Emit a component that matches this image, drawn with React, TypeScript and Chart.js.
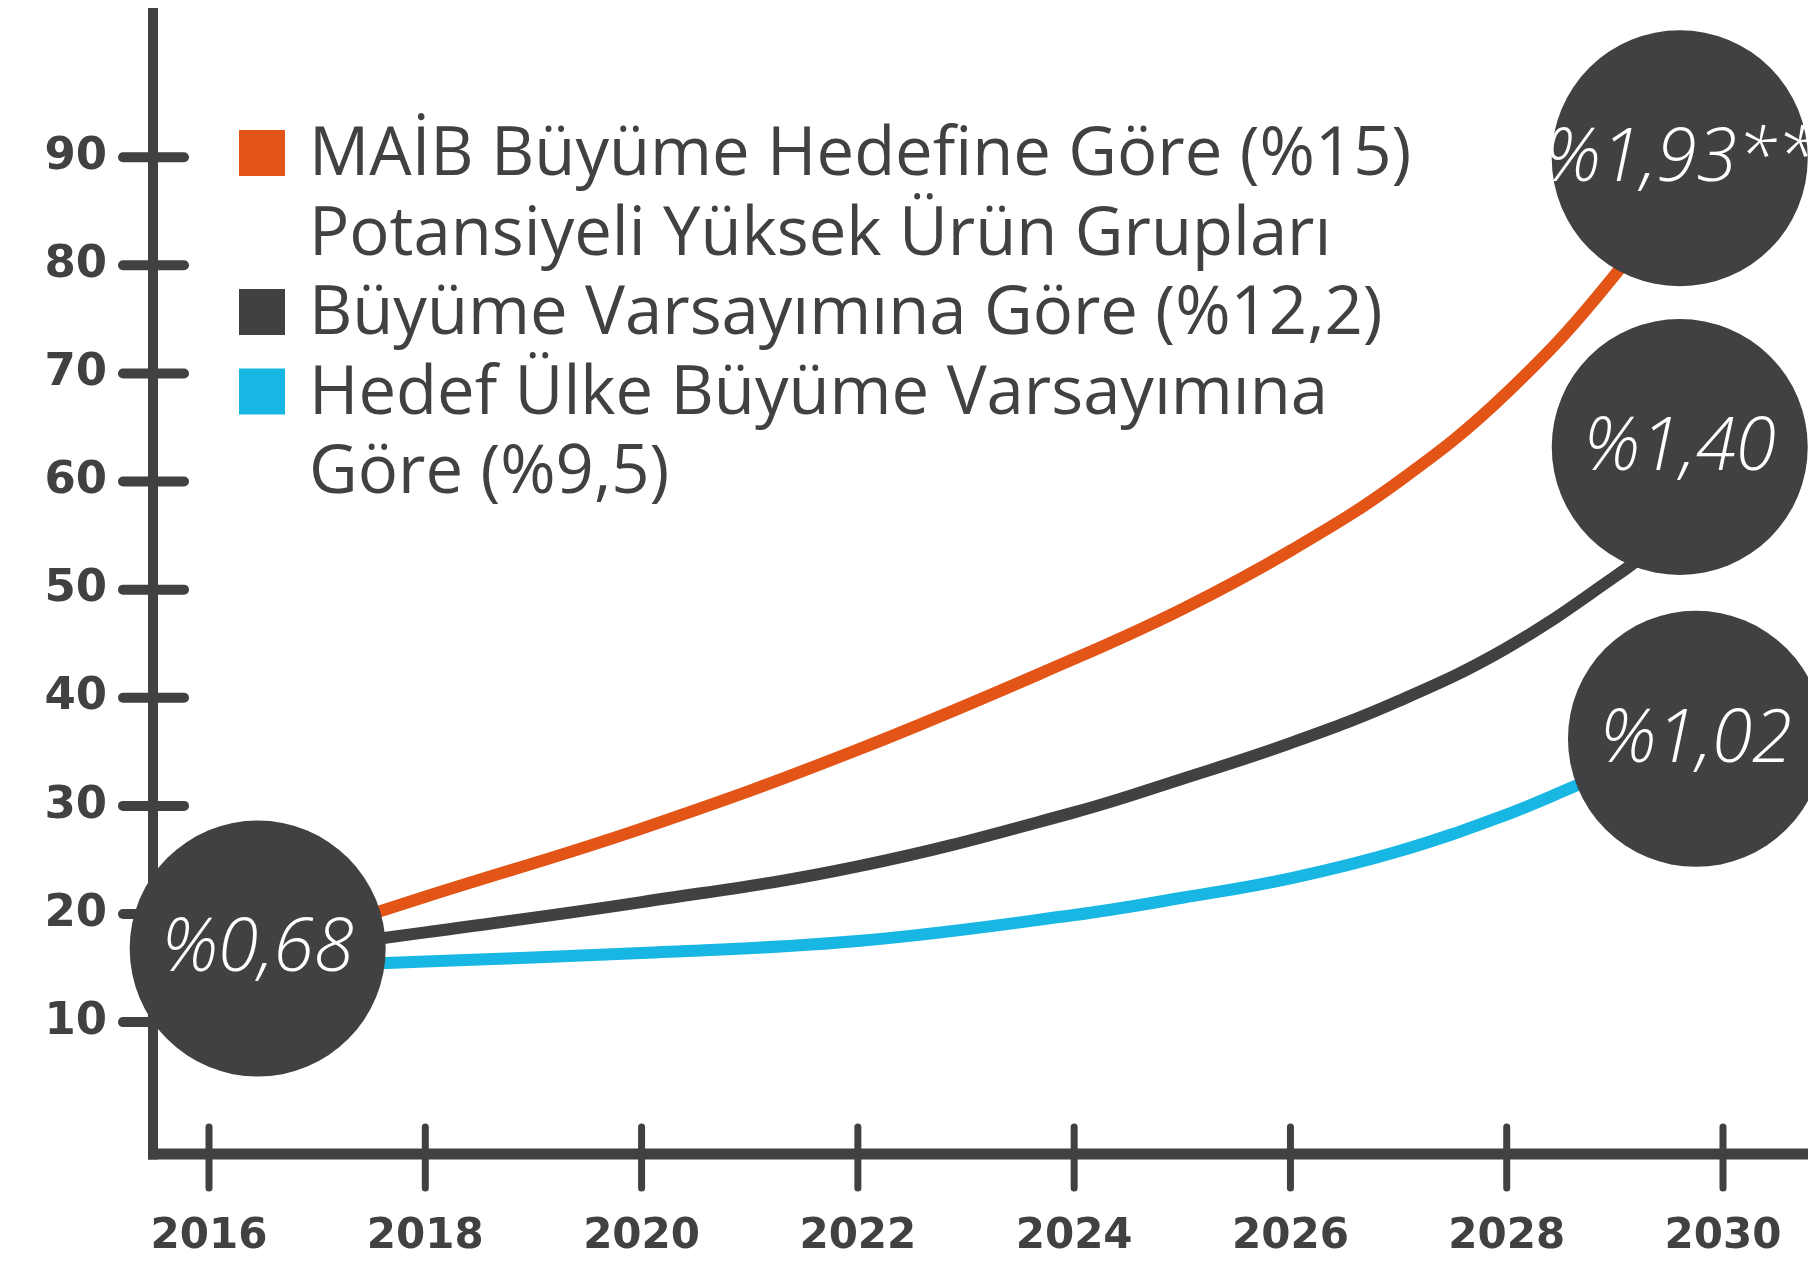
import React, { useEffect, useRef } from "react";
import { Chart, registerables } from "chart.js";

Chart.register(...registerables);

// ---- data ----
const xTicks = [2016, 2018, 2020, 2022, 2024, 2026, 2028, 2030];
const yTicks = [10, 20, 30, 40, 50, 60, 70, 80, 90];

const orangeYears = [2016.45, 2018, 2020, 2022, 2024, 2025, 2026, 2027, 2028, 2029, 2029.6];
const orangeValues = [16.6, 21.6, 27.9, 35.2, 43.6, 48.2, 53.6, 60.0, 68.2, 79.1, 88.0];

const darkYears = [2016.45, 2018, 2020, 2022, 2024, 2025, 2026, 2027, 2028, 2029, 2029.5];
const darkValues = [16.2, 18.3, 21.1, 24.4, 29.4, 32.5, 35.8, 39.7, 44.6, 51.2, 55.0];

const blueYears = [2016.45, 2018, 2020, 2022, 2024, 2025, 2026, 2027, 2028, 2028.65, 2029.5];
const blueValues = [15.0, 15.6, 16.4, 17.5, 19.9, 21.5, 23.3, 25.8, 29.2, 31.9, 35.5];

const bubbleYears = [2016.45, 2029.6, 2029.6, 2029.75];
const bubbleValues = [16.8, 89.9, 63.2, 36.2];
const bubbleLabels = ["%0,68", "%1,93**", "%1,40", "%1,02"];

const legendColors = ["#E35417", "#414143", "#17B6E3"];
const legendTexts = [
  ["MAİB Büyüme Hedefine Göre (%15)", "Potansiyeli Yüksek Ürün Grupları"],
  ["Büyüme Varsayımına Göre (%12,2)"],
  ["Hedef Ülke Büyüme Varsayımına", "Göre (%9,5)"],
];

const DARK = "#414143";
const ORANGE = "#E35417";
const BLUE = "#17B6E3";

const toPoints = (xs: number[], ys: number[]) => xs.map((x, i) => ({ x, y: ys[i] }));

export default function App() {
  const ref = useRef<HTMLCanvasElement>(null);

  useEffect(() => {
    document.body.style.margin = "0";
    const canvas = ref.current!;

    const axesPlugin = {
      id: "axesPlugin",
      beforeDatasetsDraw(chart: any) {
        const { ctx, chartArea } = chart;
        const xs = chart.scales.x;
        const ys = chart.scales.y;
        ctx.save();
        ctx.strokeStyle = DARK;
        ctx.lineCap = "butt";
        ctx.lineWidth = 10;
        ctx.beginPath();
        ctx.moveTo(chartArea.left, chartArea.top);
        ctx.lineTo(chartArea.left, chartArea.bottom + 5.5);
        ctx.stroke();
        ctx.lineWidth = 11;
        ctx.beginPath();
        ctx.moveTo(chartArea.left - 5, chartArea.bottom);
        ctx.lineTo(chart.width, chartArea.bottom);
        ctx.stroke();
        ctx.lineCap = "round";
        ctx.lineWidth = 10;
        ys.ticks.forEach((t: any) => {
          const py = ys.getPixelForValue(t.value);
          ctx.beginPath();
          ctx.moveTo(chartArea.left - 30, py);
          ctx.lineTo(chartArea.left + 31, py);
          ctx.stroke();
        });
        ctx.lineWidth = 7;
        xs.ticks.forEach((t: any) => {
          const px = xs.getPixelForValue(t.value);
          ctx.beginPath();
          ctx.moveTo(px, chartArea.bottom - 27);
          ctx.lineTo(px, chartArea.bottom + 34);
          ctx.stroke();
        });
        ctx.restore();
      },
      afterDatasetsDraw(chart: any) {
        const { ctx } = chart;
        const meta = chart.getDatasetMeta(0);
        ctx.save();
        ctx.fillStyle = "#ffffff";
        ctx.font = 'italic 300 73px "Open Sans"';
        ctx.textAlign = "center";
        ctx.textBaseline = "middle";
        meta.data.forEach((el: any, i: number) => {
          ctx.fillText(bubbleLabels[i], el.x, el.y + 2);
        });
        ctx.restore();
      },
      afterDraw(chart: any) {
        const { ctx } = chart;
        ctx.save();
        ctx.font = '400 67px "Open Sans"';
        ctx.textBaseline = "middle";
        ctx.textAlign = "left";
        const startY = 156;
        const step = 79.5;
        let line = 0;
        legendTexts.forEach((lines, i) => {
          const cy = startY + line * step;
          ctx.fillStyle = legendColors[i];
          ctx.fillRect(239, cy - 26, 46, 46);
          ctx.fillStyle = DARK;
          lines.forEach((txt, j) => {
            ctx.fillText(txt, 309, startY + (line + j) * step);
          });
          line += lines.length;
        });
        ctx.restore();
      },
    };

    const lineStyle = {
      borderWidth: 12,
      pointRadius: 0,
      tension: 0.4,
      borderCapStyle: "round" as const,
    };

    const chart = new Chart(canvas, {
      type: "line",
      data: {
        datasets: [
          {
            label: "bubbles",
            data: toPoints(bubbleYears, bubbleValues),
            showLine: false,
            pointRadius: 128,
            pointHoverRadius: 128,
            pointBackgroundColor: DARK,
            pointBorderWidth: 0,
            borderColor: DARK,
            clip: false,
            order: 0,
          } as any,
          {
            label: legendTexts[0].join(" "),
            data: toPoints(orangeYears, orangeValues),
            borderColor: ORANGE,
            ...lineStyle,
            order: 1,
          },
          {
            label: legendTexts[1].join(" "),
            data: toPoints(darkYears, darkValues),
            borderColor: DARK,
            ...lineStyle,
            order: 2,
          },
          {
            label: legendTexts[2].join(" "),
            data: toPoints(blueYears, blueValues),
            borderColor: BLUE,
            ...lineStyle,
            order: 3,
          },
        ],
      },
      options: {
        responsive: false,
        animation: false,
        devicePixelRatio: 1,
        events: [],
        layout: { autoPadding: false, padding: { top: 8, left: 0, right: 0, bottom: 0 } },
        plugins: {
          legend: { display: false },
          tooltip: { enabled: false },
        },
        scales: {
          x: {
            type: "linear",
            min: 2015.482,
            max: 2030.786,
            afterBuildTicks: (s: any) => {
              s.ticks = xTicks.map((v) => ({ value: v }));
            },
            afterFit: (s: any) => {
              s.height = 108;
              s.paddingLeft = 0;
              s.paddingRight = 0;
              s.paddingTop = 0;
              s.paddingBottom = 0;
            },
            grid: { display: false, drawTicks: false },
            border: { display: false },
            ticks: {
              autoSkip: false,
              maxRotation: 0,
              padding: 58,
              color: DARK,
              font: { family: "DejaVu Sans", weight: "bold", size: 42 },
              callback: (v: any) => String(v),
            },
          },
          y: {
            type: "linear",
            min: -2.2,
            max: 103.8,
            afterBuildTicks: (s: any) => {
              s.ticks = yTicks.map((v) => ({ value: v }));
            },
            afterFit: (s: any) => {
              s.width = 153;
              s.paddingLeft = 0;
              s.paddingRight = 0;
              s.paddingTop = 0;
              s.paddingBottom = 0;
            },
            grid: { display: false, drawTicks: false },
            border: { display: false },
            ticks: {
              autoSkip: false,
              padding: 46,
              color: DARK,
              font: { family: "DejaVu Sans", weight: "bold", size: 45 },
              callback: (v: any) => String(v),
            },
          },
        },
      },
      plugins: [axesPlugin],
    });

    return () => chart.destroy();
  }, []);

  return (
    <div style={{ width: 1808, height: 1262, position: "relative", background: "#ffffff" }}>
      <canvas ref={ref} width={1808} height={1262} style={{ display: "block" }} />
    </div>
  );
}
